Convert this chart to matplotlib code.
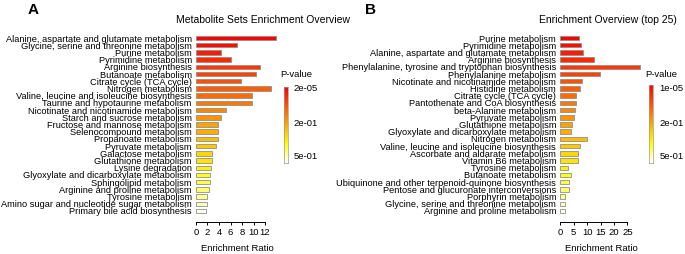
import colorsys

import matplotlib
matplotlib.use("Agg")
import matplotlib.pyplot as plt
import numpy as np
from matplotlib.colors import ListedColormap

plt.rcParams["font.family"] = ["Liberation Sans", "DejaVu Sans"]

# panel A: metabolite sets, ordered by p-value (top = smallest)
sets_a = [
    "Alanine, aspartate and glutamate metabolism",
    "Glycine, serine and threonine metabolism",
    "Purine metabolism",
    "Pyrimidine metabolism",
    "Arginine biosynthesis",
    "Butanoate metabolism",
    "Citrate cycle (TCA cycle)",
    "Nitrogen metabolism",
    "Valine, leucine and isoleucine biosynthesis",
    "Taurine and hypotaurine metabolism",
    "Nicotinate and nicotinamide metabolism",
    "Starch and sucrose metabolism",
    "Fructose and mannose metabolism",
    "Selenocompound metabolism",
    "Propanoate metabolism",
    "Pyruvate metabolism",
    "Galactose metabolism",
    "Glutathione metabolism",
    "Lysine degradation",
    "Glyoxylate and dicarboxylate metabolism",
    "Sphingolipid metabolism",
    "Arginine and proline metabolism",
    "Tyrosine metabolism",
    "Amino sugar and nucleotide sugar metabolism",
    "Primary bile acid biosynthesis",
]
ratio_a = [13.9, 7.1, 4.4, 6.0, 11.1, 10.4, 7.8, 13.0, 9.7, 9.7,
           5.2, 4.3, 3.9, 3.9, 3.8, 3.4, 2.8, 2.7, 2.6, 2.5,
           2.4, 2.2, 1.9, 1.9, 1.7]
xticks_a = [0, 2, 4, 6, 8, 10, 12]
pval_labels_a = ["2e-05", "2e-01", "5e-01"]

# panel B: top 25 pathways
sets_b = [
    "Purine metabolism",
    "Pyrimidine metabolism",
    "Alanine, aspartate and glutamate metabolism",
    "Arginine biosynthesis",
    "Phenylalanine, tyrosine and tryptophan biosynthesis",
    "Phenylalanine metabolism",
    "Nicotinate and nicotinamide metabolism",
    "Histidine metabolism",
    "Citrate cycle (TCA cycle)",
    "Pantothenate and CoA biosynthesis",
    "beta-Alanine metabolism",
    "Pyruvate metabolism",
    "Glutathione metabolism",
    "Glyoxylate and dicarboxylate metabolism",
    "Nitrogen metabolism",
    "Valine, leucine and isoleucine biosynthesis",
    "Ascorbate and aldarate metabolism",
    "Vitamin B6 metabolism",
    "Tyrosine metabolism",
    "Butanoate metabolism",
    "Ubiquinone and other terpenoid-quinone biosynthesis",
    "Pentose and glucuronate interconversions",
    "Porphyrin metabolism",
    "Glycine, serine and threonine metabolism",
    "Arginine and proline metabolism",
]
ratio_b = [7.0, 7.6, 8.5, 12.6, 29.7, 14.9, 8.0, 7.5, 5.9, 5.9,
           5.5, 5.1, 4.2, 3.9, 9.8, 7.4, 6.6, 6.6, 2.8, 3.9,
           3.2, 3.2, 1.9, 1.8, 1.6]
xticks_b = [0, 5, 10, 15, 20, 25]
pval_labels_b = ["1e-05", "2e-01", "5e-01"]


def heat_colors(n):
    # same ramp as R's heat.colors()
    j = n // 4
    i = n - j
    cols = [colorsys.hsv_to_rgb(k / i * (1 / 6), 1, 1) for k in range(i)]
    if j > 0:
        for s in np.linspace(1 - 1 / (2 * j), 1 / (2 * j), j):
            cols.append(colorsys.hsv_to_rgb(1 / 6, s, 1))
    return cols


W, H = 685, 254
fig = plt.figure(figsize=(W / 100, H / 100), dpi=100)


def px(x0, y0, x1, y1):
    return [x0 / W, 1 - y1 / H, (x1 - x0) / W, (y1 - y0) / H]


def panel(rect, labels, ratios, xticks, xlim, spine_hi, title, title_x,
          cbar_rect, pvals, letter, letter_x):
    ax = fig.add_axes(px(*rect))
    n = len(labels)
    y = np.arange(n)[::-1]
    ax.barh(y, ratios, height=0.62, color=heat_colors(n),
            edgecolor="#8f8f8f", linewidth=0.6)
    ax.set_ylim(-0.5, n - 0.5)
    ax.set_xlim(*xlim)
    ax.set_yticks(y)
    ax.set_yticklabels(labels, fontsize=6.65)
    ax.tick_params(axis="y", length=0, pad=3)
    ax.set_xticks(xticks)
    ax.tick_params(axis="x", length=2.5, width=0.7, labelsize=6.8, pad=2)
    for s in ("top", "right", "left"):
        ax.spines[s].set_visible(False)
    ax.spines["bottom"].set_position(("outward", 5))
    ax.spines["bottom"].set_bounds(0, spine_hi)
    ax.spines["bottom"].set_linewidth(0.7)
    ax.set_xlabel("Enrichment Ratio", fontsize=6.8, labelpad=5)
    fig.text(title_x / W, 1 - 20 / H, title, fontsize=7.5, ha="center", va="center")
    fig.text(letter_x / W, 1 - 10 / H, letter, fontsize=11, fontweight="bold",
             ha="center", va="center")

    cax = fig.add_axes(px(*cbar_rect))
    grad = np.linspace(1, 0, 200)[:, None]
    cax.imshow(grad, aspect="auto", cmap=ListedColormap(heat_colors(200)[::-1]),
               extent=(0, 1, 0, 1))
    cax.set_xticks([])
    cax.set_yticks([])
    for s in cax.spines.values():
        s.set_edgecolor("#9a9a9a")
        s.set_linewidth(0.5)
    x_lab = (cbar_rect[2] + 6) / W
    for lab, fy in zip(pvals, (85.3 + 3, 123.5, 156.5)):
        fig.text(x_lab, 1 - fy / H, lab, fontsize=6.8, ha="left", va="center")
    fig.text((cbar_rect[0] + 12) / W, 1 - 75 / H, "P-value", fontsize=6.8,
             ha="center", va="center")


panel((196, 34.4, 196 + 14.3 * 5.75, 214.6), sets_a, ratio_a, xticks_a,
      (0, 14.3), 12, "Metabolite Sets Enrichment Overview", 263,
      (284, 87.3, 287.5, 162.7), pval_labels_a, "A", 33)
panel((560.3, 34.4, 560.3 + 30.5 * 2.68, 214.6), sets_b, ratio_b, xticks_b,
      (0, 30.5), 25, "Enrichment Overview (top 25)", 608,
      (649.3, 85.3, 653.3, 162.7), pval_labels_b, "B", 370)

fig.savefig("out.png", dpi=100)
